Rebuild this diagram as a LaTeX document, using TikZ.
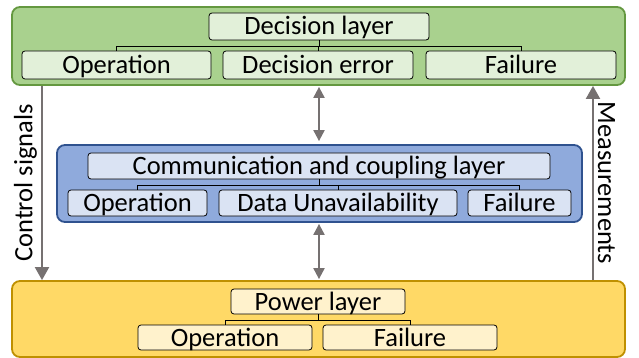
\documentclass[tikz,border=0pt]{standalone}
\usepackage{fontspec}
\setmainfont{Carlito}
\usetikzlibrary{arrows.meta}
\definecolor{greenfill}{RGB}{169,209,142}
\definecolor{greenline}{RGB}{100,152,64}
\definecolor{greenbox}{RGB}{226,240,217}
\definecolor{bluefill}{RGB}{143,170,220}
\definecolor{blueline}{RGB}{47,82,143}
\definecolor{bluebox}{RGB}{218,227,243}
\definecolor{yellowfill}{RGB}{255,217,102}
\definecolor{yellowline}{RGB}{191,144,0}
\definecolor{yellowbox}{RGB}{255,242,204}
\definecolor{arrowgray}{RGB}{118,113,113}
\tikzset{
	layer/.style={rounded corners=8pt,line width=1.8pt,inner sep=0pt},
	item/.style={draw=black,line width=0.8pt,rounded corners=3pt,inner sep=0pt,
		minimum height=26pt,text height=17pt,text depth=0pt,
		font=\fontsize{26.5}{31}\selectfont},
	tree/.style={draw=black,line width=0.8pt},
	sig/.style={draw=arrowgray,line width=2pt,-{Triangle[length=13pt,width=14pt]}},
	link/.style={draw=arrowgray,line width=2pt,{Triangle[length=11pt,width=11pt]}-{Triangle[length=11pt,width=11pt]}},
	sidelabel/.style={font=\fontsize{26.5}{31}\selectfont,inner sep=2pt}
}

\begin{document}
\begin{tikzpicture}[x=1pt,y=-1pt]
			\useasboundingbox (0,0) rectangle (639,358);
			% layer backgrounds
			\node[layer,fill=greenfill,draw=greenline,minimum width=613pt,minimum height=78pt] (dec_bg) at (318.5,46) {};
			\node[layer,fill=bluefill,draw=blueline,minimum width=525pt,minimum height=77pt] (com_bg) at (319.5,183.5) {};
			\node[layer,fill=yellowfill,draw=yellowline,minimum width=613pt,minimum height=76pt] (pow_bg) at (318.5,319) {};
			% decision layer
			\node[item,fill=greenbox,minimum width=220pt,minimum height=27pt] (dec_layer) at (319,26.5) {Decision layer};
			\node[item,fill=greenbox,minimum width=189pt,minimum height=28pt] (dec_op) at (116.5,65) {Operation};
			\node[item,fill=greenbox,minimum width=190pt,minimum height=28pt] (dec_err) at (318,65) {Decision error};
			\node[item,fill=greenbox,minimum width=190pt,minimum height=28pt] (dec_fail) at (521,65) {Failure};
			\coordinate (dec_split) at (0,46);
			\draw[tree] (dec_layer.south) -- (dec_layer.south |- dec_split);
			\draw[tree] (dec_op.north) |- (dec_split -| dec_fail.north) -- (dec_fail.north);
			\draw[tree] (dec_err.north) -- (dec_err.north |- dec_split);
			% communication layer
			\node[item,fill=bluebox,minimum width=462pt] (com_layer) at (319,166) {Communication and coupling layer};
			\node[item,fill=bluebox,minimum width=139pt] (com_op) at (137.5,203) {Operation};
			\node[item,fill=bluebox,minimum width=238pt] (com_data) at (338,203) {Data Unavailability};
			\node[item,fill=bluebox,minimum width=103pt] (com_fail) at (519.5,203) {Failure};
			\coordinate (com_split) at (0,185);
			\draw[tree] (com_layer.south) -- (com_layer.south |- com_split);
			\draw[tree] (com_op.north) |- (com_split -| com_fail.north) -- (com_fail.north);
			\draw[tree] (com_data.north) -- (com_data.north |- com_split);
			% power layer
			\node[item,fill=yellowbox,minimum width=174pt,minimum height=25pt] (pow_layer) at (318,301.5) {Power layer};
			\node[item,fill=yellowbox,minimum width=174pt,minimum height=25pt] (pow_op) at (225,337.5) {Operation};
			\node[item,fill=yellowbox,minimum width=174pt,minimum height=25pt] (pow_fail) at (410,337.5) {Failure};
			\coordinate (pow_split) at (0,320);
			\draw[tree] (pow_layer.south) -- (pow_layer.south |- pow_split);
			\draw[tree] (pow_op.north) |- (pow_split -| pow_fail.north) -- (pow_fail.north);
			% signals between layers
			\coordinate (ctrl_x) at (42,0);
			\coordinate (meas_x) at (593,0);
			\draw[sig] (dec_bg.south -| ctrl_x) -- (pow_bg.north -| ctrl_x)
				node[sidelabel,midway,rotate=90,anchor=south,yshift=2pt] {Control signals};
			\draw[sig] (pow_bg.north -| meas_x) -- (dec_bg.south -| meas_x)
				node[sidelabel,midway,rotate=-90,anchor=south,yshift=2pt] {Measurements};
			\draw[link,shorten <=1pt,shorten >=3pt] (dec_bg.south -| com_layer.south) -- (com_bg.north -| com_layer.south);
			\draw[link,shorten <=1pt,shorten >=1pt] (com_bg.south -| com_layer.south) -- (pow_bg.north -| com_layer.south);
		\end{tikzpicture}
\end{document}
